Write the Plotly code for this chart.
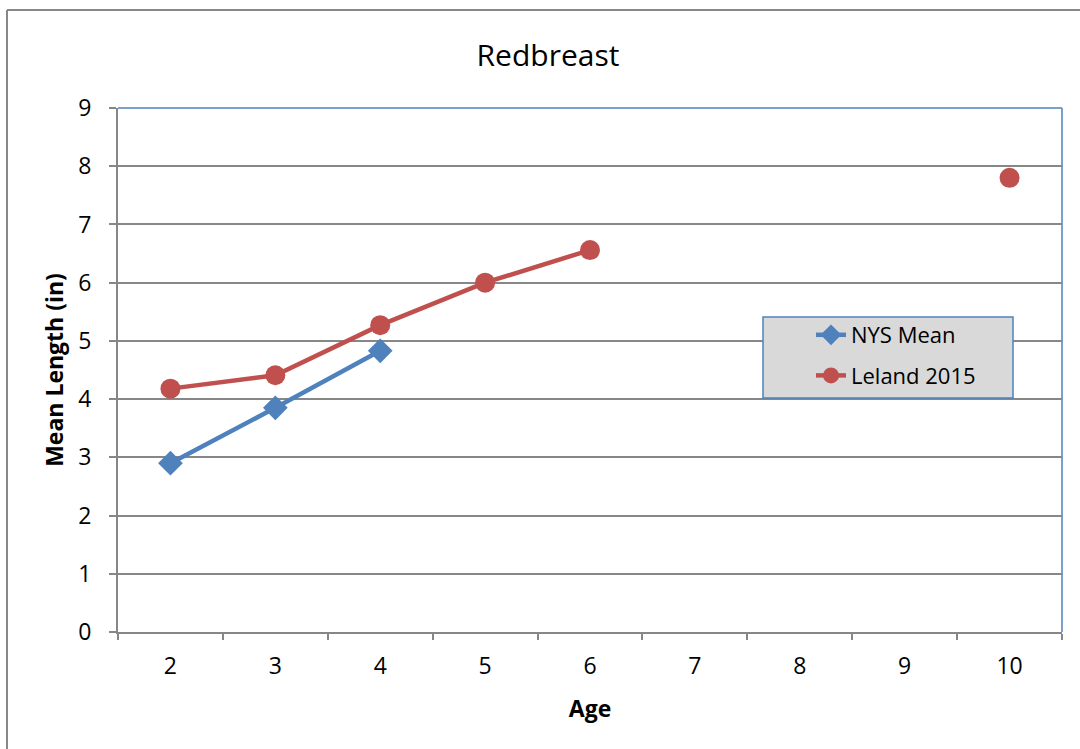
import plotly.graph_objects as go

ages = ["2", "3", "4", "5", "6", "7", "8", "9", "10"]
nys_mean = [2.90, 3.85, 4.83, None, None, None, None, None, None]
leland_2015 = [4.18, 4.41, 5.27, 6.00, 6.56, None, None, None, 7.80]
y_ticks = [0, 1, 2, 3, 4, 5, 6, 7, 8, 9]

BLUE = "#4F81BD"
RED = "#C0504D"
GRID = "#878787"
FONT = "Open Sans"

fig = go.Figure()
fig.add_trace(go.Scatter(
    x=ages, y=nys_mean, name="NYS Mean", mode="lines+markers",
    line=dict(color=BLUE, width=4.5),
    marker=dict(symbol="diamond", size=19, color=BLUE),
    connectgaps=False, legendgroup="a",
))
fig.add_trace(go.Scatter(
    x=ages, y=leland_2015, name="Leland 2015", mode="lines+markers",
    line=dict(color=RED, width=4.5),
    marker=dict(symbol="circle", size=20, color=RED),
    connectgaps=False, legendgroup="b",
))

W, H = 1080, 749
L, R, T, B = 118, 18, 108, 117
pw, ph = W - L - R, H - T - B

def px_x(v):
    return (v - L) / pw

def px_y(v):
    return (H - B - v) / ph

TICK = 23

fig.update_layout(
    width=W, height=H,
    margin=dict(l=L, r=R, t=T, b=B),
    paper_bgcolor="white", plot_bgcolor="white",
    font=dict(family=FONT, size=TICK, color="black"),
    title=dict(text="Redbreast", x=548 / W, xref="container", xanchor="center",
               y=1 - 55 / H, yref="container", yanchor="middle",
               font=dict(size=30, family=FONT)),
    showlegend=True,
    legend=dict(
        x=px_x(811), y=px_y(314), xanchor="left", yanchor="top",
        bgcolor="rgba(0,0,0,0)", borderwidth=0,
        font=dict(size=22, family=FONT),
        traceorder="grouped", tracegroupgap=9,
    ),
    xaxis=dict(
        type="category", range=[-0.5, 8.5], tickson="boundaries",
        showgrid=False, showline=True, linecolor=GRID, linewidth=2,
        ticks="outside", ticklen=6, tickcolor=GRID, tickwidth=1.5,
        ticklabelstandoff=12,
        tickfont=dict(size=TICK),
        title=dict(text="<b>Age</b>", font=dict(size=TICK), standoff=21),
        zeroline=False,
    ),
    yaxis=dict(
        range=[0, 9], tickvals=y_ticks, showgrid=True, gridcolor=GRID, gridwidth=1.5,
        showline=True, linecolor=GRID, linewidth=2,
        ticks="outside", ticklen=7, tickcolor=GRID, tickwidth=1.5,
        ticklabelstandoff=13,
        tickfont=dict(size=TICK),
        title=dict(text="<b>Mean Length (in)</b>", font=dict(size=TICK), standoff=8),
        zeroline=False,
    ),
    shapes=[
        dict(type="line", xref="paper", yref="paper", x0=0, x1=1, y0=1, y1=1,
             line=dict(color=BLUE, width=1.5), layer="above"),
        dict(type="line", xref="paper", yref="paper", x0=1, x1=1, y0=0, y1=1,
             line=dict(color=BLUE, width=1.5), layer="below"),
        dict(type="line", xref="paper", yref="paper", x0=px_x(7), x1=px_x(W + 5),
             y0=px_y(10), y1=px_y(10), line=dict(color="#888888", width=2)),
        dict(type="line", xref="paper", yref="paper", x0=px_x(7), x1=px_x(7),
             y0=px_y(10), y1=px_y(H + 5), line=dict(color="#888888", width=2)),
        # legend box
        dict(type="rect", xref="paper", yref="paper", x0=px_x(763), x1=px_x(1013),
             y0=px_y(398), y1=px_y(317), fillcolor="#D9D9D9",
             line=dict(color=BLUE, width=1.5), layer="above"),
    ],
)

fig.write_html(
    "out.html",
    config={"displayModeBar": False},
    post_script="document.body.style.margin='0';document.body.style.padding='0';",
)
